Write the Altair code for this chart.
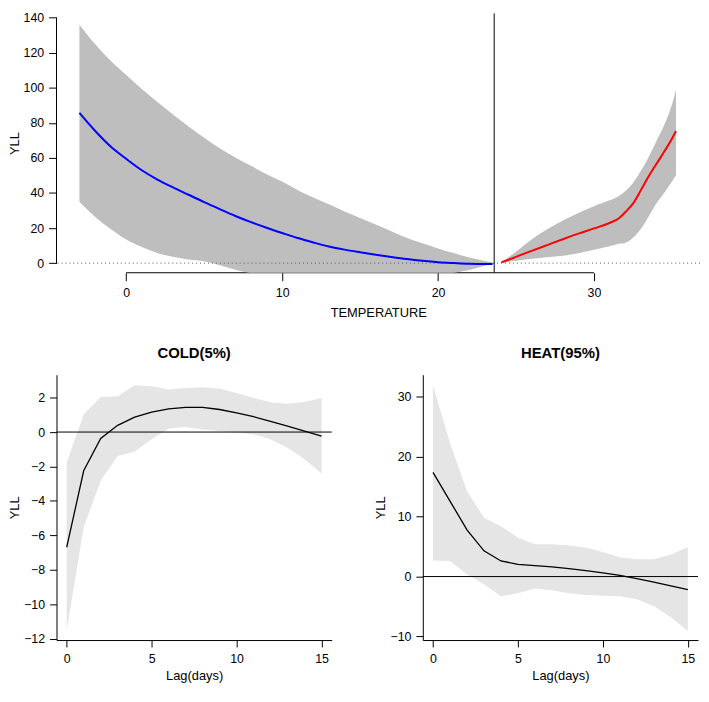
import altair as alt
import pandas as pd

FONT = "Liberation Sans"

# ---------------- top panel: overall cumulative curve ----------------
temp_cold = [-3, -2, -1, 0, 1, 2, 3, 4, 5, 6, 7, 8, 9, 10, 11, 12, 13, 14,
             15, 16, 17, 18, 19, 20, 21, 22, 23, 23.5]
yll_cold = [85.7, 75.5, 66.5, 59.5, 53.0, 47.7, 43.2, 39.0, 34.8, 30.8, 26.9,
            23.4, 20.2, 17.2, 14.3, 11.8, 9.5, 7.7, 6.2, 4.8, 3.5, 2.3, 1.3,
            0.5, 0.0, -0.4, -0.5, -0.5]
hi_cold = [136.0, 125.0, 115.5, 107.3, 99.3, 92.0, 84.8, 78.0, 71.5, 65.5,
           60.3, 55.5, 50.7, 46.5, 41.6, 37.5, 33.6, 29.5, 25.8, 22.0, 18.2,
           14.3, 11.3, 8.4, 5.7, 3.2, 1.2, 0.3]
lo_cold = [35.0, 26.5, 19.5, 13.5, 9.2, 5.8, 3.6, 2.0, 1.0, -1.2, -3.8, -5.8,
           -7.2, -8.2, -8.9, -9.3, -9.5, -9.6, -9.5, -9.2, -8.7, -8.0, -7.4,
           -6.6, -5.6, -4.0, -1.5, -0.5]

temp_heat = [24.06, 25, 26, 27, 28, 29, 30, 31, 31.6, 32, 32.5, 33, 33.5, 34,
             34.5, 35, 35.26]
yll_heat = [0.4, 3.6, 7.0, 10.3, 13.6, 16.8, 19.8, 22.9, 25.6, 29.0, 33.9,
            41.5, 49.4, 56.5, 63.5, 71.0, 75.4]
hi_heat = [0.4, 6.5, 13.5, 19.3, 24.3, 28.6, 32.5, 35.8, 38.3, 41.0, 45.7,
           52.5, 60.4, 69.5, 78.8, 90.5, 98.8]
lo_heat = [0.2, 1.3, 2.5, 3.4, 4.2, 5.6, 7.6, 9.6, 11.0, 11.6, 14.5, 19.5,
           26.5, 34.0, 40.0, 46.5, 50.3]

mmt = 23.6
top_x_ticks = [0, 10, 20, 30]
top_y_ticks = [0, 20, 40, 60, 80, 100, 120, 140]
top_x_domain = [-4.47, 36.8]
top_y_domain = [-5.5, 142.5]

# ---------------- lag-response panels ----------------
lags = list(range(16))
cold_fit = [-6.69, -2.25, -0.37, 0.39, 0.87, 1.16, 1.35, 1.43, 1.43, 1.31,
            1.12, 0.89, 0.62, 0.35, 0.06, -0.23]
cold_hi = [-1.77, 1.02, 2.04, 2.08, 2.72, 2.66, 2.47, 2.56, 2.60, 2.52, 2.27,
           1.98, 1.73, 1.64, 1.75, 1.98]
cold_lo = [-11.5, -5.53, -2.83, -1.39, -1.14, -0.42, 0.21, 0.29, 0.15, 0.06,
           -0.04, -0.13, -0.42, -0.91, -1.58, -2.41]

heat_fit = [17.4, 12.6, 7.8, 4.3, 2.6, 2.05, 1.83, 1.6, 1.33, 1.0, 0.6, 0.2,
            -0.33, -0.94, -1.56, -2.17]
heat_hi = [31.9, 22.3, 14.3, 9.8, 8.4, 6.5, 5.4, 5.4, 5.2, 4.8, 4.1, 3.2, 2.9,
           2.9, 3.7, 4.9]
heat_lo = [2.7, 2.6, 0.4, -1.3, -3.3, -2.8, -2.0, -2.3, -2.8, -3.1, -3.2,
           -3.3, -3.8, -4.9, -6.8, -9.1]

lag_ticks = [0, 5, 10, 15]
lag_domain = [-0.6, 15.6]

# ================= build top chart =================
xs = alt.Scale(domain=top_x_domain, nice=False, zero=False)
ys = alt.Scale(domain=top_y_domain, nice=False, zero=False)
ax_x = alt.Axis(values=top_x_ticks, title="TEMPERATURE", domain=False,
                grid=False, tickSize=8, labelPadding=6, titlePadding=8,
                format="d")
ax_y = alt.Axis(values=top_y_ticks, title="YLL", domain=False, grid=False,
                labelAngle=0, tickSize=8, labelPadding=5, titlePadding=2,
                format="d")


def X(f):
    return alt.X(f, type="quantitative", scale=xs, axis=ax_x)


def Y(f):
    return alt.Y(f, type="quantitative", scale=ys, axis=ax_y)


df_cold = pd.DataFrame({"t": temp_cold, "fit": yll_cold, "lo": lo_cold,
                        "hi": hi_cold})
df_heat = pd.DataFrame({"t": temp_heat, "fit": yll_heat, "lo": lo_heat,
                        "hi": hi_heat})

xdom = pd.DataFrame({"a": [top_x_ticks[0]], "b": [top_x_ticks[-1]],
                     "c": [top_y_domain[0]]})
ydom = pd.DataFrame({"a": [top_x_domain[0]], "b": [top_y_ticks[0]],
                     "c": [top_y_ticks[-1]]})

x_line = alt.Chart(xdom).mark_rule(color="black", strokeWidth=1).encode(
    x=X("a"), x2="b", y=Y("c"))
y_line = alt.Chart(ydom).mark_rule(color="black", strokeWidth=1).encode(
    x=X("a"), y=Y("b"), y2="c")

band_c = alt.Chart(df_cold).mark_area(color="#BEBEBE", opacity=1, clip=True,
                                      interpolate="monotone").encode(
    x=X("t"), y=Y("lo"), y2="hi")
band_h = alt.Chart(df_heat).mark_area(color="#BEBEBE", opacity=1, clip=True,
                                      interpolate="monotone").encode(
    x=X("t"), y=Y("lo"), y2="hi")
zero_line = alt.Chart(pd.DataFrame({"z": [0]})).mark_rule(
    color="#555555", strokeDash=[1, 3], strokeWidth=1).encode(y=Y("z"))
line_c = alt.Chart(df_cold).mark_line(color="#0000FF", strokeWidth=2,
                                      interpolate="monotone").encode(
    x=X("t"), y=Y("fit"))
line_h = alt.Chart(df_heat).mark_line(color="#FF0000", strokeWidth=2,
                                      interpolate="monotone").encode(
    x=X("t"), y=Y("fit"))
v_line = alt.Chart(pd.DataFrame({"m": [mmt]})).mark_rule(
    color="black", strokeWidth=1).encode(x=X("m"))

top = alt.layer(x_line, y_line, band_c, band_h, zero_line, line_c, line_h,
                v_line).properties(width=650, height=262)


# ================= lag panels =================
def lag_panel(title, fit, lo, hi, ydomain, yticks):
    sx = alt.Scale(domain=lag_domain, nice=False, zero=False)
    sy = alt.Scale(domain=ydomain, nice=False, zero=False)
    axx = alt.Axis(values=lag_ticks, title="Lag(days)", grid=False,
                   tickSize=7, labelPadding=6, titlePadding=4, format="d")
    axy = alt.Axis(values=yticks, title="YLL", grid=False, labelAngle=0,
                   tickSize=7, labelPadding=5, titlePadding=2, format="d")
    d = pd.DataFrame({"lag": lags, "fit": fit, "lo": lo, "hi": hi})
    band = alt.Chart(d).mark_area(color="#E5E5E5", opacity=1).encode(
        x=alt.X("lag:Q", scale=sx, axis=axx),
        y=alt.Y("lo:Q", scale=sy, axis=axy), y2="hi")
    zero = alt.Chart(pd.DataFrame({"z": [0]})).mark_rule(
        color="black", strokeWidth=1).encode(
        y=alt.Y("z:Q", scale=sy, axis=axy))
    line = alt.Chart(d).mark_line(color="black", strokeWidth=1.3).encode(
        x=alt.X("lag:Q", scale=sx, axis=axx),
        y=alt.Y("fit:Q", scale=sy, axis=axy))
    return alt.layer(band, zero, line).properties(
        width=278, height=268,
        title=alt.TitleParams(title, fontSize=15, fontWeight="bold",
                              font=FONT, offset=14, anchor="middle",
                              color="black"))


cold = lag_panel("COLD(5%)", cold_fit, cold_lo, cold_hi, [-12.08, 3.33],
                 [-12, -10, -8, -6, -4, -2, 0, 2])
heat = lag_panel("HEAT(95%)", heat_fit, heat_lo, heat_hi, [-10.6, 33.7],
                 [-10, 0, 10, 20, 30])

chart = alt.vconcat(
    top, alt.hconcat(cold, heat, spacing=42), spacing=26
).properties(padding=0).configure_view(stroke=None).configure_axis(
    labelFont=FONT, titleFont=FONT, labelFontSize=12.5, titleFontSize=13,
    titleFontWeight="normal", labelColor="black", titleColor="black",
    tickColor="black", domainColor="black", tickWidth=1, domainWidth=1
)

chart.save("out.html", embed_options={"renderer": "svg", "actions": False})
